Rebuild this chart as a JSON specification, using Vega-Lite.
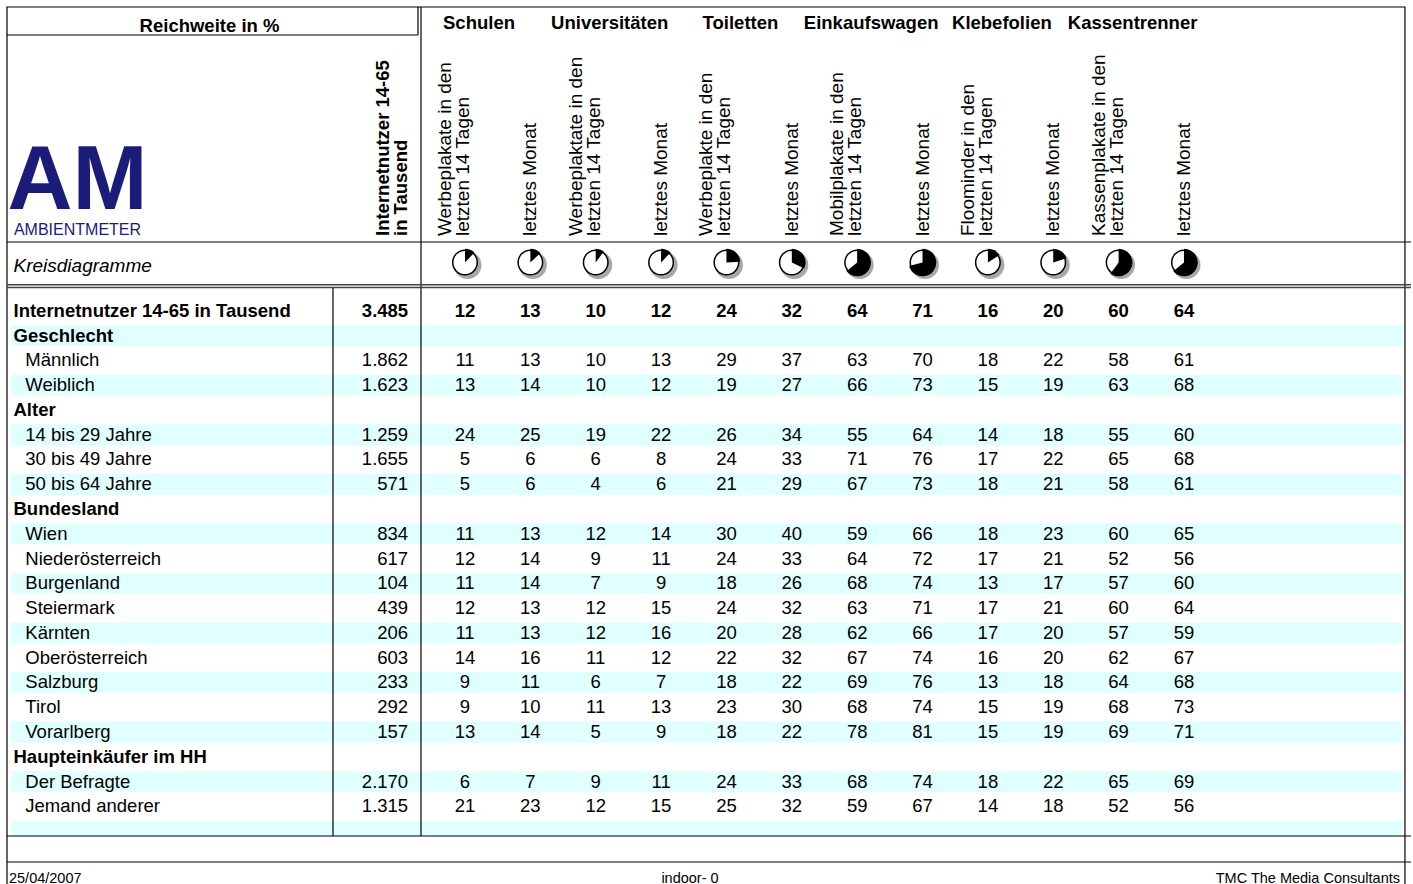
{
"$schema":"https://vega.github.io/schema/vega-lite/v6.json",
"width":1413,"height":884,"autosize":{"type":"none"},"padding":0,
"background":"white",
"config":{"view":{"stroke":null},"axis":{"disable":true},"locale":{"number":{"decimal":",","thousands":".","grouping":[3],"currency":["","\u00a0€"]}},"text":{"font":"Liberation Sans","fontSize":18.5,"color":"black"}},
"datasets":{
"rows":[
{"r":1,"label":"Internetnutzer 14-65 in Tausend","kind":"h","total":3485},
{"r":2,"label":"Geschlecht","kind":"h"},
{"r":3,"label":"Männlich","kind":"i","total":1862},
{"r":4,"label":"Weiblich","kind":"i","total":1623},
{"r":5,"label":"Alter","kind":"h"},
{"r":6,"label":"14 bis 29 Jahre","kind":"i","total":1259},
{"r":7,"label":"30 bis 49 Jahre","kind":"i","total":1655},
{"r":8,"label":"50 bis 64 Jahre","kind":"i","total":571},
{"r":9,"label":"Bundesland","kind":"h"},
{"r":10,"label":"Wien","kind":"i","total":834},
{"r":11,"label":"Niederösterreich","kind":"i","total":617},
{"r":12,"label":"Burgenland","kind":"i","total":104},
{"r":13,"label":"Steiermark","kind":"i","total":439},
{"r":14,"label":"Kärnten","kind":"i","total":206},
{"r":15,"label":"Oberösterreich","kind":"i","total":603},
{"r":16,"label":"Salzburg","kind":"i","total":233},
{"r":17,"label":"Tirol","kind":"i","total":292},
{"r":18,"label":"Vorarlberg","kind":"i","total":157},
{"r":19,"label":"Haupteinkäufer im HH","kind":"h"},
{"r":20,"label":"Der Befragte","kind":"i","total":2170},
{"r":21,"label":"Jemand anderer","kind":"i","total":1315},
{"r":22,"label":"","kind":"blank"}
],
"cols":[
{"c":1,"group":"Schulen","head":"Werbeplakate in den|letzten 14 Tagen"},
{"c":2,"head":"letztes Monat"},
{"c":3,"group":"Universitäten","head":"Werbeplaktate in den|letzten 14 Tagen"},
{"c":4,"head":"letztes Monat"},
{"c":5,"group":"Toiletten","head":"Werbeplakte in den|letzten 14 Tagen"},
{"c":6,"head":"letztes Monat"},
{"c":7,"group":"Einkaufswagen","head":"Mobilplakate in den|letzten 14 Tagen"},
{"c":8,"head":"letztes Monat"},
{"c":9,"group":"Klebefolien","head":"Floominder in den|letzten 14 Tagen"},
{"c":10,"head":"letztes Monat"},
{"c":11,"group":"Kassentrenner","head":"Kassenplakate in den|letzten 14 Tagen"},
{"c":12,"head":"letztes Monat"}
],
"cells":[
{"r":1,"c":1,"v":12},{"r":1,"c":2,"v":13},{"r":1,"c":3,"v":10},{"r":1,"c":4,"v":12},{"r":1,"c":5,"v":24},{"r":1,"c":6,"v":32},{"r":1,"c":7,"v":64},{"r":1,"c":8,"v":71},{"r":1,"c":9,"v":16},{"r":1,"c":10,"v":20},{"r":1,"c":11,"v":60},{"r":1,"c":12,"v":64},
{"r":3,"c":1,"v":11},{"r":3,"c":2,"v":13},{"r":3,"c":3,"v":10},{"r":3,"c":4,"v":13},{"r":3,"c":5,"v":29},{"r":3,"c":6,"v":37},{"r":3,"c":7,"v":63},{"r":3,"c":8,"v":70},{"r":3,"c":9,"v":18},{"r":3,"c":10,"v":22},{"r":3,"c":11,"v":58},{"r":3,"c":12,"v":61},
{"r":4,"c":1,"v":13},{"r":4,"c":2,"v":14},{"r":4,"c":3,"v":10},{"r":4,"c":4,"v":12},{"r":4,"c":5,"v":19},{"r":4,"c":6,"v":27},{"r":4,"c":7,"v":66},{"r":4,"c":8,"v":73},{"r":4,"c":9,"v":15},{"r":4,"c":10,"v":19},{"r":4,"c":11,"v":63},{"r":4,"c":12,"v":68},
{"r":6,"c":1,"v":24},{"r":6,"c":2,"v":25},{"r":6,"c":3,"v":19},{"r":6,"c":4,"v":22},{"r":6,"c":5,"v":26},{"r":6,"c":6,"v":34},{"r":6,"c":7,"v":55},{"r":6,"c":8,"v":64},{"r":6,"c":9,"v":14},{"r":6,"c":10,"v":18},{"r":6,"c":11,"v":55},{"r":6,"c":12,"v":60},
{"r":7,"c":1,"v":5},{"r":7,"c":2,"v":6},{"r":7,"c":3,"v":6},{"r":7,"c":4,"v":8},{"r":7,"c":5,"v":24},{"r":7,"c":6,"v":33},{"r":7,"c":7,"v":71},{"r":7,"c":8,"v":76},{"r":7,"c":9,"v":17},{"r":7,"c":10,"v":22},{"r":7,"c":11,"v":65},{"r":7,"c":12,"v":68},
{"r":8,"c":1,"v":5},{"r":8,"c":2,"v":6},{"r":8,"c":3,"v":4},{"r":8,"c":4,"v":6},{"r":8,"c":5,"v":21},{"r":8,"c":6,"v":29},{"r":8,"c":7,"v":67},{"r":8,"c":8,"v":73},{"r":8,"c":9,"v":18},{"r":8,"c":10,"v":21},{"r":8,"c":11,"v":58},{"r":8,"c":12,"v":61},
{"r":10,"c":1,"v":11},{"r":10,"c":2,"v":13},{"r":10,"c":3,"v":12},{"r":10,"c":4,"v":14},{"r":10,"c":5,"v":30},{"r":10,"c":6,"v":40},{"r":10,"c":7,"v":59},{"r":10,"c":8,"v":66},{"r":10,"c":9,"v":18},{"r":10,"c":10,"v":23},{"r":10,"c":11,"v":60},{"r":10,"c":12,"v":65},
{"r":11,"c":1,"v":12},{"r":11,"c":2,"v":14},{"r":11,"c":3,"v":9},{"r":11,"c":4,"v":11},{"r":11,"c":5,"v":24},{"r":11,"c":6,"v":33},{"r":11,"c":7,"v":64},{"r":11,"c":8,"v":72},{"r":11,"c":9,"v":17},{"r":11,"c":10,"v":21},{"r":11,"c":11,"v":52},{"r":11,"c":12,"v":56},
{"r":12,"c":1,"v":11},{"r":12,"c":2,"v":14},{"r":12,"c":3,"v":7},{"r":12,"c":4,"v":9},{"r":12,"c":5,"v":18},{"r":12,"c":6,"v":26},{"r":12,"c":7,"v":68},{"r":12,"c":8,"v":74},{"r":12,"c":9,"v":13},{"r":12,"c":10,"v":17},{"r":12,"c":11,"v":57},{"r":12,"c":12,"v":60},
{"r":13,"c":1,"v":12},{"r":13,"c":2,"v":13},{"r":13,"c":3,"v":12},{"r":13,"c":4,"v":15},{"r":13,"c":5,"v":24},{"r":13,"c":6,"v":32},{"r":13,"c":7,"v":63},{"r":13,"c":8,"v":71},{"r":13,"c":9,"v":17},{"r":13,"c":10,"v":21},{"r":13,"c":11,"v":60},{"r":13,"c":12,"v":64},
{"r":14,"c":1,"v":11},{"r":14,"c":2,"v":13},{"r":14,"c":3,"v":12},{"r":14,"c":4,"v":16},{"r":14,"c":5,"v":20},{"r":14,"c":6,"v":28},{"r":14,"c":7,"v":62},{"r":14,"c":8,"v":66},{"r":14,"c":9,"v":17},{"r":14,"c":10,"v":20},{"r":14,"c":11,"v":57},{"r":14,"c":12,"v":59},
{"r":15,"c":1,"v":14},{"r":15,"c":2,"v":16},{"r":15,"c":3,"v":11},{"r":15,"c":4,"v":12},{"r":15,"c":5,"v":22},{"r":15,"c":6,"v":32},{"r":15,"c":7,"v":67},{"r":15,"c":8,"v":74},{"r":15,"c":9,"v":16},{"r":15,"c":10,"v":20},{"r":15,"c":11,"v":62},{"r":15,"c":12,"v":67},
{"r":16,"c":1,"v":9},{"r":16,"c":2,"v":11},{"r":16,"c":3,"v":6},{"r":16,"c":4,"v":7},{"r":16,"c":5,"v":18},{"r":16,"c":6,"v":22},{"r":16,"c":7,"v":69},{"r":16,"c":8,"v":76},{"r":16,"c":9,"v":13},{"r":16,"c":10,"v":18},{"r":16,"c":11,"v":64},{"r":16,"c":12,"v":68},
{"r":17,"c":1,"v":9},{"r":17,"c":2,"v":10},{"r":17,"c":3,"v":11},{"r":17,"c":4,"v":13},{"r":17,"c":5,"v":23},{"r":17,"c":6,"v":30},{"r":17,"c":7,"v":68},{"r":17,"c":8,"v":74},{"r":17,"c":9,"v":15},{"r":17,"c":10,"v":19},{"r":17,"c":11,"v":68},{"r":17,"c":12,"v":73},
{"r":18,"c":1,"v":13},{"r":18,"c":2,"v":14},{"r":18,"c":3,"v":5},{"r":18,"c":4,"v":9},{"r":18,"c":5,"v":18},{"r":18,"c":6,"v":22},{"r":18,"c":7,"v":78},{"r":18,"c":8,"v":81},{"r":18,"c":9,"v":15},{"r":18,"c":10,"v":19},{"r":18,"c":11,"v":69},{"r":18,"c":12,"v":71},
{"r":20,"c":1,"v":6},{"r":20,"c":2,"v":7},{"r":20,"c":3,"v":9},{"r":20,"c":4,"v":11},{"r":20,"c":5,"v":24},{"r":20,"c":6,"v":33},{"r":20,"c":7,"v":68},{"r":20,"c":8,"v":74},{"r":20,"c":9,"v":18},{"r":20,"c":10,"v":22},{"r":20,"c":11,"v":65},{"r":20,"c":12,"v":69},
{"r":21,"c":1,"v":21},{"r":21,"c":2,"v":23},{"r":21,"c":3,"v":12},{"r":21,"c":4,"v":15},{"r":21,"c":5,"v":25},{"r":21,"c":6,"v":32},{"r":21,"c":7,"v":59},{"r":21,"c":8,"v":67},{"r":21,"c":9,"v":14},{"r":21,"c":10,"v":18},{"r":21,"c":11,"v":52},{"r":21,"c":12,"v":56}
]
},
"layer":[
{"data":{"name":"rows"},"transform":[{"filter":"datum.r % 2 == 0"}],
 "mark":{"type":"rule","color":"#E0FFFF","strokeWidth":21,"strokeCap":"butt"},
 "encoding":{"x":{"datum":-5.9462,"type":"quantitative","scale":{"type":"linear","domain":[-6.1144,15.5043],"range":[0,1413],"nice":false,"zero":false}},"x2":{"datum":15.3354},
 "y":{"field":"r","type":"quantitative","scale":{"type":"linear","domain":[-11.5416,24.1324],"range":[0,884],"nice":false,"zero":false}}}},
{"data":{"values":[{}]},"mark":{"type":"rect","fill":"white"},
 "encoding":{"x":{"datum":-6.0074},"x2":{"datum":15.3813},"y":{"datum":22.1953},"y2":{"datum":23.2446}}},
{"data":{"values":[{}]},"mark":{"type":"rect","filled":false,"stroke":"black","strokeWidth":1.2},
 "encoding":{"x":{"datum":-6.0074},"x2":{"datum":15.3813},"y":{"datum":-11.2591},"y2":{"datum":24.3745}}},
{"data":{"values":[{}]},"mark":{"type":"rule","color":"black","strokeWidth":1.2},
 "encoding":{"x":{"datum":-6.0074},"x2":{"datum":0.2809},"y":{"datum":-10.1291}}},
{"data":{"values":[{}]},"mark":{"type":"rule","color":"black","strokeWidth":1.2},
 "encoding":{"x":{"datum":0.2809},"y":{"datum":-11.2591},"y2":{"datum":-10.1291}}},
{"data":{"values":[{}]},"mark":{"type":"rule","color":"black","strokeWidth":1.2},
 "encoding":{"x":{"datum":0.3268},"y":{"datum":-11.2591},"y2":{"datum":22.1953}}},
{"data":{"values":[{}]},"mark":{"type":"rule","color":"black","strokeWidth":1.2},
 "encoding":{"x":{"datum":-6.0074},"x2":{"datum":15.4731},"y":{"datum":-1.7756}}},
{"data":{"values":[{}]},"mark":{"type":"rule","color":"#444444","strokeWidth":1.6},
 "encoding":{"x":{"datum":-6.0074},"x2":{"datum":15.4731},"y":{"datum":-0.0525}}},
{"data":{"values":[{}]},"mark":{"type":"rule","color":"#444444","strokeWidth":1.6},
 "encoding":{"x":{"datum":-6.0074},"x2":{"datum":15.4731},"y":{"datum":0.0605}}},
{"data":{"values":[{}]},"mark":{"type":"rule","color":"black","strokeWidth":1.2},
 "encoding":{"x":{"datum":-1.0196},"y":{"datum":0.0807},"y2":{"datum":22.1953}}},
{"data":{"values":[{}]},"mark":{"type":"rule","color":"black","strokeWidth":1.2},
 "encoding":{"x":{"datum":-6.0074},"x2":{"datum":15.4731},"y":{"datum":22.1953}}},
{"data":{"values":[{}]},"mark":{"type":"rule","color":"black","strokeWidth":1.2},
 "encoding":{"x":{"datum":-6.0074},"x2":{"datum":15.4731},"y":{"datum":23.2446}}},
{"data":{"values":[{}]},"mark":{"type":"text","text":"Reichweite in %","fontWeight":"bold","align":"center","baseline":"middle"},
 "encoding":{"x":{"datum":-2.9091},"y":{"datum":-10.5044}}},
{"data":{"name":"cols"},"transform":[{"filter":"isValid(datum.group)"}],
 "mark":{"type":"text","fontWeight":"bold","align":"center","baseline":"middle","dx":14},
 "encoding":{"x":{"field":"c","type":"quantitative"},"y":{"datum":-10.6013},"text":{"field":"group"}}},
{"data":{"name":"cols"},"transform":[{"filter":"indexof(datum.head, '|') < 0"}],
 "mark":{"type":"text","angle":270,"align":"left","baseline":"bottom","dy":10,"fontSize":19},
 "encoding":{"x":{"field":"c","type":"quantitative"},"y":{"datum":-2.0178},"text":{"field":"head"}}},
{"data":{"name":"cols"},"transform":[{"filter":"indexof(datum.head, '|') >= 0"}],
 "mark":{"type":"text","angle":270,"align":"left","baseline":"bottom","dy":-10,"lineBreak":"|","lineHeight":18,"fontSize":19},
 "encoding":{"x":{"field":"c","type":"quantitative"},"y":{"datum":-2.0178},"text":{"field":"head"}}},
{"data":{"values":[{}]},
 "mark":{"type":"text","text":"Internetnutzer 14-65|in Tausend","fontWeight":"bold","angle":270,"align":"left","baseline":"bottom","dy":-7,"lineBreak":"|","lineHeight":18},
 "encoding":{"x":{"datum":0},"y":{"datum":-2.0178}}},
{"data":{"values":[{}]},
 "mark":{"type":"text","text":"AM","fontWeight":"bold","fontSize":90,"color":"#1b1b7a","align":"center","baseline":"alphabetic"},
 "encoding":{"x":{"datum":-4.9287},"y":{"datum":-3.1275}}},
{"data":{"values":[{}]},
 "mark":{"type":"text","text":"AMBIENTMETER","fontSize":16,"color":"#1b1b7a","align":"center","baseline":"alphabetic"},
 "encoding":{"x":{"datum":-4.9287},"y":{"datum":-2.0783}}},
{"data":{"values":[{}]},
 "mark":{"type":"text","text":"Kreisdiagramme","fontStyle":"italic","fontSize":19,"align":"left","baseline":"middle"},
 "encoding":{"x":{"datum":-5.9079},"y":{"datum":-0.8192}}},
{"data":{"name":"rows"},"transform":[{"filter":"datum.kind == 'h'"}],
 "mark":{"type":"text","fontWeight":"bold","align":"left","baseline":"middle"},
 "encoding":{"x":{"datum":-5.9079},"y":{"field":"r","type":"quantitative"},"text":{"field":"label"}}},
{"data":{"name":"rows"},"transform":[{"filter":"datum.kind == 'i'"}],
 "mark":{"type":"text","align":"left","baseline":"middle"},
 "encoding":{"x":{"datum":-5.7274},"y":{"field":"r","type":"quantitative"},"text":{"field":"label"}}},
{"data":{"name":"rows"},"transform":[{"filter":"datum.r == 1"}],
 "mark":{"type":"text","fontWeight":"bold","align":"right","baseline":"middle","dx":8.5},
 "encoding":{"x":{"datum":0},"y":{"field":"r","type":"quantitative"},"text":{"field":"total","type":"quantitative","format":",d"}}},
{"data":{"name":"rows"},"transform":[{"filter":"datum.r != 1 && isValid(datum.total)"}],
 "mark":{"type":"text","align":"right","baseline":"middle","dx":8.5},
 "encoding":{"x":{"datum":0},"y":{"field":"r","type":"quantitative"},"text":{"field":"total","type":"quantitative","format":",d"}}},
{"data":{"name":"cells"},"transform":[{"filter":"datum.r == 1"}],
 "mark":{"type":"text","fontWeight":"bold","align":"center","baseline":"middle"},
 "encoding":{"x":{"field":"c","type":"quantitative"},"y":{"field":"r","type":"quantitative"},"text":{"field":"v","type":"quantitative"}}},
{"data":{"name":"cells"},"transform":[{"filter":"datum.r != 1"}],
 "mark":{"type":"text","align":"center","baseline":"middle"},
 "encoding":{"x":{"field":"c","type":"quantitative"},"y":{"field":"r","type":"quantitative"},"text":{"field":"v","type":"quantitative"}}},
{"data":{"values":[{}]},
 "mark":{"type":"text","text":"25/04/2007","fontSize":14.5,"align":"left","baseline":"alphabetic"},
 "encoding":{"x":{"datum":-5.9768},"y":{"datum":24.11}}},
{"data":{"values":[{}]},
 "mark":{"type":"text","text":"indoor- 0","fontSize":14.5,"align":"center","baseline":"alphabetic"},
 "encoding":{"x":{"datum":4.4425},"y":{"datum":24.11}}},
{"data":{"values":[{}]},
 "mark":{"type":"text","text":"TMC The Media Consultants","fontSize":14.5,"align":"right","baseline":"alphabetic"},
 "encoding":{"x":{"datum":15.3053},"y":{"datum":24.11}}},
{"data":{"name":"cells"},"transform":[{"filter":"datum.r == 1"}],
 "mark":{"type":"point","shape":"M 1.18,0.18 A 1,1 0 1,1 -0.82,0.18 A 1,1 0 1,1 1.18,0.18 Z","filled":true,"color":"#a8a8a8","size":784,"opacity":1,"strokeWidth":0},
 "encoding":{"x":{"field":"c","type":"quantitative"},"y":{"datum":-0.9483}}},
{"data":{"name":"cells"},"transform":[{"filter":"datum.r == 1"}],
 "mark":{"type":"point","shape":"circle","filled":true,"fill":"white","stroke":"black","strokeWidth":1.5,"size":600,"opacity":1},
 "encoding":{"x":{"field":"c","type":"quantitative"},"y":{"datum":-0.9483}}},
{"data":{"name":"cells"},"transform":[{"filter":"datum.r == 1"}],
 "mark":{"type":"arc","color":"black","radius":13.8},
 "encoding":{"x":{"field":"c","type":"quantitative","stack":null},"y":{"datum":-0.9483},
 "theta":{"field":"v","type":"quantitative","scale":{"domain":[0,100],"range":[0,6.283185]},"stack":null}}}
]
}
